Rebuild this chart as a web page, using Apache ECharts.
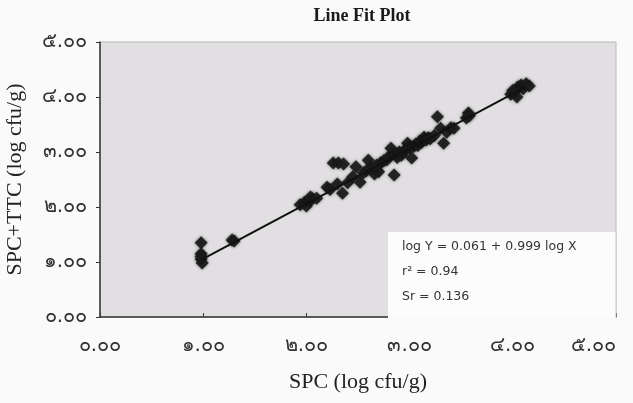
<!DOCTYPE html>
<html>
<head>
<meta charset="utf-8">
<script src="https://cdn.jsdelivr.net/npm/echarts@6/dist/echarts.min.js"></script>
<style>
  html, body { margin: 0; padding: 0; background: #fafafa; }
  #box { width: 633px; height: 403px; }
</style>
</head>
<body>
<div id="box"></div>
<script>
// tick labels (Thai numerals as in the original)
const tickLabels = ['๐.๐๐', '๑.๐๐', '๒.๐๐', '๓.๐๐', '๔.๐๐', '๕.๐๐']

// observed SPC (x) vs SPC+TTC (y), log cfu/g
const spc = [
  0.98, 0.98, 0.98, 0.99, 0.98, 1.28, 1.30,
  1.94, 1.98, 2.00, 2.03, 2.06, 2.04, 2.10,
  2.20, 2.26, 2.31, 2.36, 2.23, 2.30, 2.40, 2.35, 2.45,
  2.48, 2.52, 2.55, 2.60, 2.58, 2.63, 2.66, 2.70, 2.72, 2.68, 2.75,
  2.78, 2.80, 2.82, 2.85, 2.86, 2.88, 2.90, 2.92, 2.95, 2.97, 2.98, 3.00,
  3.02, 3.04, 3.06, 3.08, 3.10, 3.12, 3.14, 3.16, 3.18, 3.20, 3.24, 3.27,
  3.30, 3.33, 3.36, 3.40, 3.43, 3.55, 3.57, 3.58,
  3.98, 4.02, 4.05, 4.08, 4.10, 4.13, 4.16, 4.04, 4.00
]
const spcTtc = [
  1.35, 1.15, 1.05, 0.98, 1.10, 1.40, 1.38,
  2.04, 2.08, 2.02, 2.12, 2.15, 2.18, 2.16,
  2.36, 2.80, 2.80, 2.78, 2.32, 2.42, 2.44, 2.25, 2.55,
  2.73, 2.45, 2.62, 2.85, 2.66, 2.70, 2.60, 2.64, 2.80, 2.76, 2.84,
  2.86, 2.92, 3.07, 2.58, 2.96, 2.90, 3.00, 2.94, 3.02, 3.06, 3.16, 3.08,
  2.89, 3.10, 3.14, 3.12, 3.20, 3.18, 3.27, 3.22, 3.26, 3.24, 3.30, 3.64,
  3.43, 3.16, 3.36, 3.44, 3.43, 3.62, 3.71, 3.66,
  4.05, 4.10, 4.18, 4.22, 4.15, 4.24, 4.20, 4.00, 4.12
]

// predicted (fitted) line ends
const fitX = [0.98, 4.13]
const fitY = [1.04, 4.19]

const eqLines = ['log Y = 0.061 + 0.999 log X', 'r² = 0.94', 'Sr = 0.136']

const box = document.getElementById('box')
const myChart = echarts.init(box)

const serif = '"Liberation Serif", "Times New Roman", serif'
const thai = '"DejaVu Sans", "Noto Sans", sans-serif'

const option = {
  backgroundColor: '#fafafa',
  animation: false,
  title: {
    text: 'Line Fit Plot',
    left: 357,
    top: 2,
    textAlign: 'center',
    textStyle: { fontFamily: serif, fontSize: 18, fontWeight: 'bold', color: '#1a1a1a' }
  },
  grid: {
    left: 100, right: 17, top: 42, bottom: 86,
    outerBoundsMode: 'none',
    containLabel: false,
    show: true,
    backgroundColor: '#e1dfe1',
    borderColor: '#b8b8b8',
    borderWidth: 1
  },
  xAxis: {
    type: 'value',
    min: 0, max: 5, interval: 1,
    name: 'SPC (log cfu/g)',
    nameLocation: 'middle',
    nameGap: 54,
    nameTextStyle: { fontFamily: serif, fontSize: 22, color: '#222' },
    axisLine: { show: true, lineStyle: { color: '#333', width: 1.5 } },
    axisTick: { show: true, inside: true, length: 4, lineStyle: { color: '#333' } },
    splitLine: { show: false },
    axisLabel: {
      margin: 19,
      alignMaxLabel: 'right',
      fontFamily: thai, fontSize: 20, color: '#333',
      formatter: v => tickLabels[Math.round(v)]
    }
  },
  yAxis: {
    type: 'value',
    min: 0, max: 5, interval: 1,
    name: 'SPC+TTC (log cfu/g)',
    nameLocation: 'middle',
    nameGap: 74,
    nameTextStyle: { fontFamily: serif, fontSize: 22, color: '#222' },
    axisLine: { show: true, lineStyle: { color: '#333', width: 1.5 } },
    axisTick: { show: true, length: 4, lineStyle: { color: '#333' } },
    splitLine: { show: false },
    axisLabel: {
      margin: 13,
      fontFamily: thai, fontSize: 20, color: '#333',
      formatter: v => tickLabels[Math.round(v)]
    }
  },
  series: [
    {
      name: 'Predicted',
      type: 'line',
      data: fitX.map((x, i) => [x, fitY[i]]),
      symbol: 'none',
      lineStyle: { color: '#111', width: 2 },
      z: 3
    },
    {
      name: 'Observed',
      type: 'scatter',
      data: spc.map((x, i) => [x, spcTtc[i]]),
      symbol: 'diamond',
      symbolSize: 13,
      itemStyle: { color: '#1b1b1b', opacity: 0.92, shadowBlur: 3, shadowColor: 'rgba(0,0,0,0.6)' },
      z: 2
    }
  ],
  graphic: [
    {
      type: 'rect',
      shape: { x: 388, y: 232, width: 228, height: 86 },
      style: { fill: '#fcfcfc', stroke: null },
      z: 10
    },
    {
      type: 'line',
      shape: { x1: 616, y1: 232, x2: 616, y2: 318 },
      style: { stroke: '#c8c8c8', lineWidth: 1 },
      z: 11
    },
    ...eqLines.map((t, i) => ({
      type: 'text',
      x: 402,
      y: 240 + i * 25,
      style: { text: t, fontFamily: '"DejaVu Sans", sans-serif', fontSize: 12.5, fill: '#333' },
      z: 11
    }))
  ]
}
myChart.setOption(option)
window.onresize = function () {
  myChart.resize()
}
</script>
</body>
</html>
